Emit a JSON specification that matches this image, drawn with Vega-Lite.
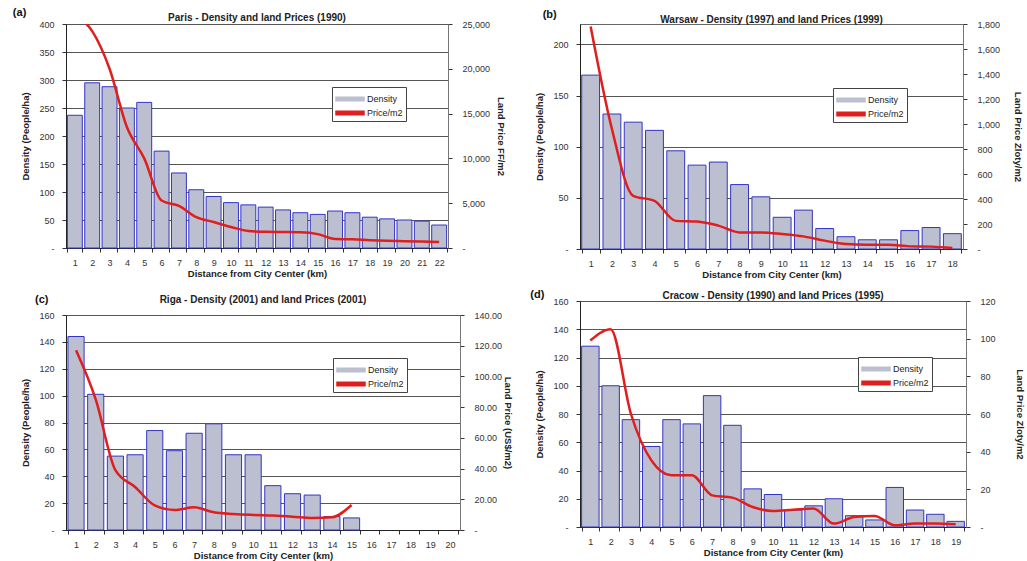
{
  "$schema": "https://vega.github.io/schema/vega-lite/v6.json",
  "background": "white",
  "padding": {"left": 12, "top": 6, "right": 0, "bottom": 2},
  "datasets": {
    "paris": [
      {"d": 1, "density": 237, "price": 26000},
      {"d": 2, "density": 295, "price": 24200},
      {"d": 3, "density": 288, "price": 20000},
      {"d": 4, "density": 250, "price": 13500},
      {"d": 5, "density": 260, "price": 10000},
      {"d": 6, "density": 173, "price": 5300},
      {"d": 7, "density": 134, "price": 4700},
      {"d": 8, "density": 104, "price": 3450},
      {"d": 9, "density": 92, "price": 2900},
      {"d": 10, "density": 81, "price": 2350},
      {"d": 11, "density": 77, "price": 1900},
      {"d": 12, "density": 73, "price": 1800},
      {"d": 13, "density": 68, "price": 1780},
      {"d": 14, "density": 63, "price": 1750},
      {"d": 15, "density": 60, "price": 1550},
      {"d": 16, "density": 66, "price": 1000},
      {"d": 17, "density": 63, "price": 980},
      {"d": 18, "density": 55, "price": 870},
      {"d": 19, "density": 52, "price": 800},
      {"d": 20, "density": 50, "price": 760},
      {"d": 21, "density": 48, "price": 720},
      {"d": 22, "density": 41, "price": 680}
    ],
    "warsaw": [
      {"d": 1, "density": 170, "price": 1780},
      {"d": 2, "density": 132, "price": 960},
      {"d": 3, "density": 124, "price": 425},
      {"d": 4, "density": 116, "price": 385},
      {"d": 5, "density": 96, "price": 225},
      {"d": 6, "density": 82, "price": 220},
      {"d": 7, "density": 85, "price": 187},
      {"d": 8, "density": 63, "price": 133},
      {"d": 9, "density": 51, "price": 133},
      {"d": 10, "density": 31, "price": 120},
      {"d": 11, "density": 38, "price": 101},
      {"d": 12, "density": 20, "price": 67},
      {"d": 13, "density": 12, "price": 40},
      {"d": 14, "density": 9, "price": 35},
      {"d": 15, "density": 9, "price": 35},
      {"d": 16, "density": 18, "price": 21},
      {"d": 17, "density": 21, "price": 19},
      {"d": 18, "density": 15, "price": 8}
    ],
    "riga": [
      {"d": 1, "density": 144, "price": 117},
      {"d": 2, "density": 101, "price": 85},
      {"d": 3, "density": 55, "price": 39},
      {"d": 4, "density": 56, "price": 28},
      {"d": 5, "density": 74, "price": 16},
      {"d": 6, "density": 59, "price": 13},
      {"d": 7, "density": 72, "price": 14.8},
      {"d": 8, "density": 79, "price": 11.5},
      {"d": 9, "density": 56, "price": 10.4},
      {"d": 10, "density": 56, "price": 9.8},
      {"d": 11, "density": 33, "price": 9.4},
      {"d": 12, "density": 27, "price": 8.7},
      {"d": 13, "density": 26, "price": 7.8},
      {"d": 14, "density": 10, "price": 8.3},
      {"d": 15, "density": 9, "price": 16.3}
    ],
    "cracow": [
      {"d": 1, "density": 128, "price": 99},
      {"d": 2, "density": 100, "price": 105},
      {"d": 3, "density": 76, "price": 60},
      {"d": 4, "density": 57, "price": 35.5},
      {"d": 5, "density": 76, "price": 27.5},
      {"d": 6, "density": 73, "price": 27.5},
      {"d": 7, "density": 93, "price": 16.8},
      {"d": 8, "density": 72, "price": 15.6},
      {"d": 9, "density": 27, "price": 10.6},
      {"d": 10, "density": 23, "price": 8.5},
      {"d": 11, "density": 12, "price": 9.2},
      {"d": 12, "density": 15, "price": 9.8},
      {"d": 13, "density": 20, "price": 1.8},
      {"d": 14, "density": 8, "price": 5.3},
      {"d": 15, "density": 5, "price": 5.9},
      {"d": 16, "density": 28, "price": 0.9},
      {"d": 17, "density": 12, "price": 1.8},
      {"d": 18, "density": 9, "price": 1.8},
      {"d": 19, "density": 4, "price": 1.4}
    ]
  },
  "resolve": {"scale": {"color": "independent", "x": "independent", "y": "independent"}, "legend": {"color": "independent"}},
  "spacing": 15,
  "hconcat": [
    {
      "spacing": 15,
      "resolve": {"scale": {"color": "independent", "x": "independent", "y": "independent"}, "legend": {"color": "independent"}},
      "vconcat": [
        {
          "width": 382, "height": 224,
          "title": {"text": "Paris - Density and land Prices (1990)", "offset": -16},
          "data": {"name": "paris"},
          "encoding": {
            "x": {"field": "d", "type": "ordinal",
              "scale": {"domain": [1,2,3,4,5,6,7,8,9,10,11,12,13,14,15,16,17,18,19,20,21,22], "paddingInner": 0.14, "paddingOuter": 0.08},
              "axis": {"title": "Distance from City Center (km)", "labelAngle": 0, "tickBand": "extent", "titlePadding": 1, "labelPadding": 6, "tickSize": 4}}
          },
          "layer": [
            {"mark": {"type": "bar", "stroke": "#3434c4", "strokeWidth": 1},
             "encoding": {
               "y": {"field": "density", "type": "quantitative", "scale": {"domain": [0, 400]},
                 "axis": {"title": "Density (People/ha)", "values": [0,50,100,150,200,250,300,350,400], "grid": true, "labelExpr": "datum.value == 0 ? '-' : format(datum.value, ',')", "labelPadding": 8, "titlePadding": 8}},
               "color": {"datum": "Density", "scale": {"domain": ["Density", "Price/m2"], "range": ["#bcbfcf", "#e01e1e"]},
                 "legend": {"legendX": 266, "legendY": 63}}
             }},
            {"mark": {"type": "line", "interpolate": "monotone", "clip": true, "strokeWidth": 2.5},
             "encoding": {
               "y": {"field": "price", "type": "quantitative", "scale": {"domain": [0, 25000]},
                 "axis": {"orient": "right", "title": "Land Price FF/m2", "values": [0,5000,10000,15000,20000,25000], "grid": false, "labelExpr": "datum.value == 0 ? '-' : format(datum.value, ',')", "labelPadding": 10, "titlePadding": 6, "domainColor": "#777"}},
               "color": {"datum": "Price/m2"}
             }},
            {"data": {"values": [{"label": "(a)"}]},
             "mark": {"type": "text", "align": "left", "baseline": "middle", "dx": -62, "dy": -123, "fontSize": 11, "fontWeight": "bold", "color": "#111"},
             "encoding": {"x": {"datum": 1}, "text": {"field": "label"}}}
          ],
          "resolve": {"scale": {"y": "independent"}}
        },
        {
          "width": 394, "height": 215,
          "title": {"text": "Riga - Density (2001) and land Prices (2001)", "offset": -11},
          "data": {"name": "riga"},
          "encoding": {
            "x": {"field": "d", "type": "ordinal",
              "scale": {"domain": [1,2,3,4,5,6,7,8,9,10,11,12,13,14,15,16,17,18,19,20], "paddingInner": 0.18, "paddingOuter": 0.1},
              "axis": {"title": "Distance from City Center (km)", "labelAngle": 0, "tickBand": "extent", "titlePadding": 1, "labelPadding": 6, "tickSize": 4}}
          },
          "layer": [
            {"mark": {"type": "bar", "stroke": "#3434c4", "strokeWidth": 1},
             "encoding": {
               "y": {"field": "density", "type": "quantitative", "scale": {"domain": [0, 160]},
                 "axis": {"title": "Density (People/ha)", "values": [0,20,40,60,80,100,120,140,160], "grid": true, "labelExpr": "datum.value == 0 ? '-' : format(datum.value, ',')", "labelPadding": 8, "titlePadding": 8}},
               "color": {"datum": "Density", "scale": {"domain": ["Density", "Price/m2"], "range": ["#bcbfcf", "#e01e1e"]},
                 "legend": {"legendX": 267, "legendY": 43}}
             }},
            {"mark": {"type": "line", "interpolate": "monotone", "clip": true, "strokeWidth": 2.5},
             "encoding": {
               "y": {"field": "price", "type": "quantitative", "scale": {"domain": [0, 140]},
                 "axis": {"orient": "right", "title": "Land Price (US$/m2)", "values": [0,20,40,60,80,100,120,140], "grid": false, "labelExpr": "datum.value == 0 ? '-' : format(datum.value, ',.2f')", "labelPadding": 10, "titlePadding": 1, "domainColor": "#777"}},
               "color": {"datum": "Price/m2"}
             }},
            {"data": {"values": [{"label": "(c)"}]},
             "mark": {"type": "text", "align": "left", "baseline": "middle", "dx": -41, "dy": -123, "fontSize": 11, "fontWeight": "bold", "color": "#111"},
             "encoding": {"x": {"datum": 1}, "text": {"field": "label"}}}
          ],
          "resolve": {"scale": {"y": "independent"}}
        }
      ]
    },
    {
      "spacing": 9,
      "resolve": {"scale": {"color": "independent", "x": "independent", "y": "independent"}, "legend": {"color": "independent"}},
      "vconcat": [
        {
          "width": 383, "height": 225,
          "title": {"text": "Warsaw - Density (1997) and land Prices (1999)", "offset": -16},
          "data": {"name": "warsaw"},
          "encoding": {
            "x": {"field": "d", "type": "ordinal",
              "scale": {"domain": [1,2,3,4,5,6,7,8,9,10,11,12,13,14,15,16,17,18], "paddingInner": 0.16, "paddingOuter": 0.08},
              "axis": {"title": "Distance from City Center (km)", "labelAngle": 0, "tickBand": "extent", "titlePadding": 1, "labelPadding": 6, "tickSize": 4}}
          },
          "layer": [
            {"mark": {"type": "bar", "stroke": "#3434c4", "strokeWidth": 1},
             "encoding": {
               "y": {"field": "density", "type": "quantitative", "scale": {"domain": [0, 220]},
                 "axis": {"title": "Density (People/ha)", "values": [0,50,100,150,200], "grid": true, "labelExpr": "datum.value == 0 ? '-' : format(datum.value, ',')", "labelPadding": 8, "titlePadding": 8}},
               "color": {"datum": "Density", "scale": {"domain": ["Density", "Price/m2"], "range": ["#bcbfcf", "#e01e1e"]},
                 "legend": {"legendX": 253, "legendY": 64}}
             }},
            {"mark": {"type": "line", "interpolate": "monotone", "clip": true, "strokeWidth": 2.5},
             "encoding": {
               "y": {"field": "price", "type": "quantitative", "scale": {"domain": [0, 1800]},
                 "axis": {"orient": "right", "title": "Land Price Zloty/m2", "values": [0,200,400,600,800,1000,1200,1400,1600,1800], "grid": false, "labelExpr": "datum.value == 0 ? '-' : format(datum.value, ',')", "labelPadding": 10, "titlePadding": 13, "domainColor": "#777"}},
               "color": {"datum": "Price/m2"}
             }},
            {"data": {"values": [{"label": "(b)"}]},
             "mark": {"type": "text", "align": "left", "baseline": "middle", "dx": -48, "dy": -122, "fontSize": 11, "fontWeight": "bold", "color": "#111"},
             "encoding": {"x": {"datum": 1}, "text": {"field": "label"}}}
          ],
          "resolve": {"scale": {"y": "independent"}}
        },
        {
          "width": 386, "height": 226,
          "title": {"text": "Cracow - Density (1990) and land Prices (1995)", "offset": -12},
          "data": {"name": "cracow"},
          "encoding": {
            "x": {"field": "d", "type": "ordinal",
              "scale": {"domain": [1,2,3,4,5,6,7,8,9,10,11,12,13,14,15,16,17,18,19], "paddingInner": 0.14, "paddingOuter": 0.08},
              "axis": {"title": "Distance from City Center (km)", "labelAngle": 0, "tickBand": "extent", "titlePadding": 1, "labelPadding": 6, "tickSize": 4}}
          },
          "layer": [
            {"mark": {"type": "bar", "stroke": "#3434c4", "strokeWidth": 1},
             "encoding": {
               "y": {"field": "density", "type": "quantitative", "scale": {"domain": [0, 160]},
                 "axis": {"title": "Density (People/ha)", "values": [0,20,40,60,80,100,120,140,160], "grid": true, "labelExpr": "datum.value == 0 ? '-' : format(datum.value, ',')", "labelPadding": 8, "titlePadding": 8}},
               "color": {"datum": "Density", "scale": {"domain": ["Density", "Price/m2"], "range": ["#bcbfcf", "#e01e1e"]},
                 "legend": {"legendX": 278, "legendY": 56}}
             }},
            {"mark": {"type": "line", "interpolate": "monotone", "clip": true, "strokeWidth": 2.5},
             "encoding": {
               "y": {"field": "price", "type": "quantitative", "scale": {"domain": [0, 120]},
                 "axis": {"orient": "right", "title": "Land Price Zloty/m2", "values": [0,20,40,60,80,100,120], "grid": false, "labelExpr": "datum.value == 0 ? '-' : format(datum.value, ',')", "labelPadding": 10, "titlePadding": 19, "domainColor": "#777"}},
               "color": {"datum": "Price/m2"}
             }},
            {"data": {"values": [{"label": "(d)"}]},
             "mark": {"type": "text", "align": "left", "baseline": "middle", "dx": -60, "dy": -119, "fontSize": 11, "fontWeight": "bold", "color": "#111"},
             "encoding": {"x": {"datum": 1}, "text": {"field": "label"}}}
          ],
          "resolve": {"scale": {"y": "independent"}}
        }
      ]
    }
  ],
  "config": {
    "font": "Liberation Sans",
    "view": {"stroke": "#666", "strokeWidth": 1},
    "title": {"fontSize": 10, "fontWeight": "bold", "color": "#222", "anchor": "middle", "frame": "group"},
    "axis": {"labelFontSize": 9, "labelColor": "#333", "titleFontSize": 9.5, "titleFontWeight": "bold", "titleColor": "#222", "domainColor": "#222", "tickColor": "#333", "gridColor": "#555", "tickSize": 4, "labelOverlap": false, "labelFlush": false},
    "legend": {
      "orient": "none", "title": null, "strokeColor": "#444", "fillColor": "white", "padding": 3,
      "labelFontSize": 9, "labelColor": "#222", "rowPadding": -2, "symbolSize": 256, "labelOffset": 8, "symbolOffset": 6,
      "symbolType": "M-1.75,-0.22H1.75V0.22H-1.75Z"
    }
  }
}
